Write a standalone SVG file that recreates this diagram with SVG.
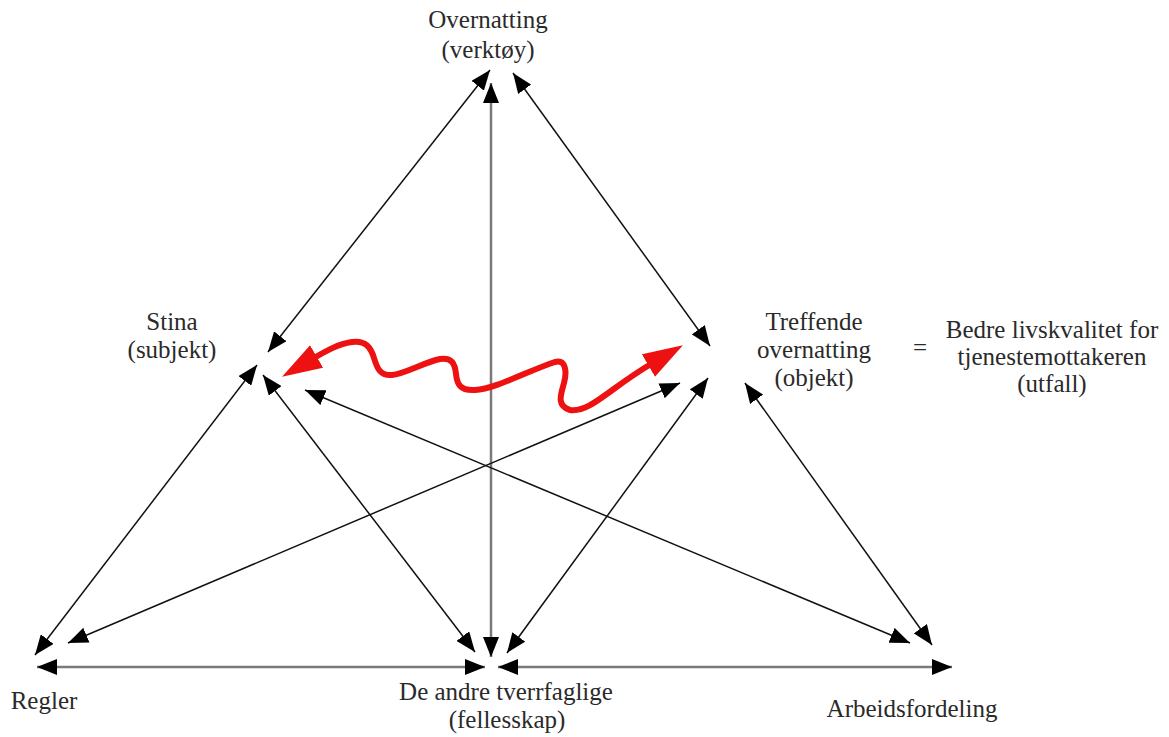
<svg xmlns="http://www.w3.org/2000/svg" width="1169" height="737" viewBox="0 0 1169 737">
<style>
text{font-family:"Liberation Serif","Times New Roman",serif;font-size:25px;fill:#2a2a2a;text-anchor:middle}
.c{stroke:#111;stroke-width:1.5;fill:none;marker-start:url(#ah);marker-end:url(#ah)}
.g{stroke:#7a7a7a;stroke-width:2.5;fill:none;marker-start:url(#ah);marker-end:url(#ah)}
.r{stroke:#ee1111;stroke-width:6;fill:none;stroke-linecap:round;marker-start:url(#rh);marker-end:url(#rh)}
</style>
<defs>
<marker id="ah" markerUnits="userSpaceOnUse" markerWidth="21" markerHeight="16" refX="20" refY="8" orient="auto-start-reverse" viewBox="0 0 21 16">
<path d="M0,0 L20,8 L0,16 z" fill="#000"/>
</marker>
<marker id="rh" markerUnits="userSpaceOnUse" markerWidth="42" markerHeight="28" refX="3" refY="13" orient="auto-start-reverse" viewBox="0 0 42 28">
<path d="M0,0 L40,13 L0,26 z" fill="#ee1111"/>
</marker>
</defs>
<g id="connectors">
<line class="c" x1="490" y1="70" x2="268" y2="352"/>
<line class="c" x1="513" y1="73" x2="710" y2="346"/>
<line class="g" x1="491" y1="83" x2="491" y2="657"/>
<line class="c" x1="263" y1="375" x2="475" y2="652"/>
<line class="c" x1="708" y1="378" x2="507" y2="653"/>
<line class="c" x1="257" y1="365" x2="35" y2="655"/>
<line class="c" x1="680" y1="383" x2="68" y2="643"/>
<line class="c" x1="305" y1="390" x2="910" y2="643"/>
<line class="c" x1="745" y1="383" x2="932" y2="645"/>
<line class="g" x1="37" y1="667" x2="485" y2="667"/>
<line class="g" x1="498" y1="667" x2="952" y2="667"/>
<path class="r" d="M314,358 C326,351 338,344 352,342 C366,340 371,348 374,358 C377,368 380,376 392,375 C404,374 425,362 440,359 C452,357 455,364 456,374 C457,384 460,391 475,390 C495,389 530,370 555,362 C566,359 567,372 564,383 C561,394 556,406 570,410 C590,413 610,388 651,364"/>
</g>
<g id="overnatting"><text x="488" y="28">Overnatting</text><text x="488" y="58">(verktøy)</text></g>
<g id="stina"><text x="172" y="330">Stina</text><text x="172" y="358">(subjekt)</text></g>
<g id="treffende"><text x="814" y="330">Treffende</text><text x="814" y="358">overnatting</text><text x="814" y="386">(objekt)</text></g>
<g id="equals"><text x="920" y="356">=</text></g>
<g id="utfall"><text x="1052" y="338">Bedre livskvalitet for</text><text x="1052" y="365">tjenestemottakeren</text><text x="1052" y="392">(utfall)</text></g>
<g id="regler"><text x="44" y="709">Regler</text></g>
<g id="deandre"><text x="506" y="700">De andre tverrfaglige</text><text x="507" y="728">(fellesskap)</text></g>
<g id="arbeid"><text x="912" y="717">Arbeidsfordeling</text></g>
</svg>
